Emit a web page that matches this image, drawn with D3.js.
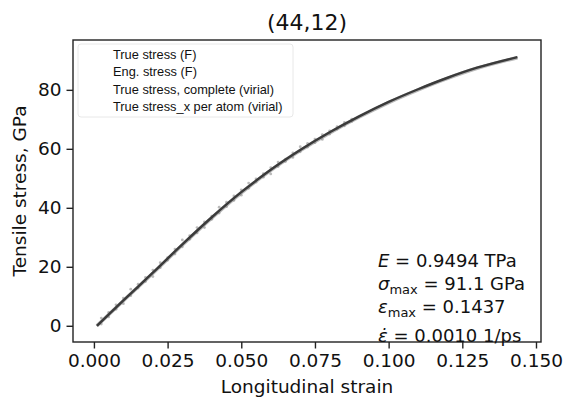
<!DOCTYPE html>
<html>
<head>
<meta charset="utf-8">
<script src="https://cdn.jsdelivr.net/npm/d3@7"></script>
<style>
  html, body { margin: 0; padding: 0; background: #fff; }
  svg { display: block; }
  text { font-family: "DejaVu Sans", sans-serif; fill: #111; }
</style>
</head>
<body>
<svg id="chart" width="565" height="398"></svg>
<script>
// Stress-strain data (strain, GPa)
const strain = [0.001, 0.010, 0.020, 0.030, 0.040, 0.050, 0.060, 0.070, 0.080, 0.090, 0.100, 0.110, 0.120, 0.130, 0.1437];
const trueStressF = [0.0, 8.6, 18.0, 27.6, 36.8, 45.3, 52.9, 59.6, 65.6, 71.0, 75.9, 80.2, 84.1, 87.5, 91.1];
const engStressF = [0.0, 8.5, 17.8, 27.4, 36.6, 45.1, 52.7, 59.4, 65.4, 70.8, 75.7, 80.0, 83.9, 87.3, 90.9];

// Virial samples
const virialStrain = [0.0025, 0.005, 0.0075, 0.010, 0.0125, 0.015, 0.0175, 0.020, 0.0225, 0.025, 0.0275, 0.030,
  0.0325, 0.035, 0.0375, 0.040, 0.0425, 0.045, 0.0475, 0.050, 0.0525, 0.055, 0.0575, 0.060, 0.0625, 0.065,
  0.0675, 0.070, 0.0725, 0.075, 0.0775, 0.080, 0.0825, 0.085, 0.0875];
const virialStress = [2.6, 3.0, 7.1, 7.5, 12.4, 12.8, 16.4, 16.7, 21.4, 23.1, 24.3, 29.1,
  29.3, 33.3, 33.3, 37.2, 40.2, 40.4, 44.0, 44.3, 48.4, 48.7, 51.6, 51.5, 55.5, 56.5,
  57.1, 60.7, 60.6, 63.3, 63.2, 66.1, 66.7, 69.0, 69.3];
const perAtomStress = [0.6, 4.5, 5.6, 9.4, 10.2, 14.1, 15.0, 18.9, 19.7, 22.2, 26.0, 26.8,
  30.6, 31.5, 35.2, 36.1, 38.2, 41.9, 42.5, 46.1, 46.6, 49.8, 50.4, 53.6, 54.0, 55.7,
  58.6, 59.0, 61.8, 62.1, 64.8, 65.0, 67.5, 67.8, 70.1];

const legendLabels = ["True stress (F)", "Eng. stress (F)", "True stress, complete (virial)", "True stress_x per atom (virial)"];
const xTicks = [0.000, 0.025, 0.050, 0.075, 0.100, 0.125, 0.150];
const yTicks = [0, 20, 40, 60, 80];

const svg = d3.select("#chart");
const plot = { left: 73, right: 541, top: 40, bottom: 342 };

const x = d3.scaleLinear().domain([-0.0071, 0.1517]).range([plot.left, plot.right]);
const y = d3.scaleLinear().domain([-5.5, 96.9]).range([plot.bottom, plot.top]);

// Slight softening filter for the curves
const defs = svg.append("defs");
defs.append("filter").attr("id", "soft").append("feGaussianBlur").attr("stdDeviation", 0.6);

// Legend frame
const lg = svg.append("g");
lg.append("rect")
  .attr("x", 78).attr("y", 44).attr("width", 215).attr("height", 73)
  .attr("rx", 3).attr("fill", "#fff").attr("stroke", "#e8e8e8").attr("stroke-width", 1);
lg.selectAll("text").data(legendLabels).join("text")
  .attr("x", 113).attr("y", (d, i) => 58.5 + i * 17.5)
  .style("font-family", "'Liberation Sans', Arial, sans-serif")
  .style("font-size", "12.8px")
  .attr("fill", "#222")
  .text(d => d);

// Data marks
const curves = svg.append("g").attr("filter", "url(#soft)");
const pts = virialStrain.map((s, i) => [s, virialStress[i]]).concat(virialStrain.map((s, i) => [s, perAtomStress[i]]));
curves.selectAll("circle").data(pts).join("circle")
  .attr("cx", d => x(d[0])).attr("cy", d => y(d[1])).attr("r", 1.4)
  .attr("fill", "#777").attr("opacity", 0.5);

const line = d3.line().curve(d3.curveMonotoneX).x(d => x(d[0])).y(d => y(d[1]));
curves.append("path")
  .datum(strain.map((s, i) => [s, engStressF[i]]))
  .attr("d", line).attr("fill", "none").attr("stroke", "#888").attr("stroke-width", 3.6).attr("opacity", 0.6);
curves.append("path")
  .datum(strain.map((s, i) => [s, trueStressF[i]]))
  .attr("d", line).attr("fill", "none").attr("stroke", "#3a3a3a").attr("stroke-width", 2.4);

// Axes
const xAxis = d3.axisBottom(x).tickValues(xTicks).tickFormat(d3.format(".3f")).tickSize(6.5).tickPadding(5);
const yAxis = d3.axisLeft(y).tickValues(yTicks).tickSize(6.5).tickPadding(5);

const gx = svg.append("g").attr("transform", `translate(0,${plot.bottom})`).call(xAxis);
const gy = svg.append("g").attr("transform", `translate(${plot.left},0)`).call(yAxis);
[gx, gy].forEach(g => {
  g.select(".domain").remove();
  g.selectAll(".tick line").attr("stroke", "#222").attr("stroke-width", 1.4);
  g.selectAll(".tick text").attr("fill", "#111")
    .style("font-family", "'DejaVu Sans', sans-serif").style("font-size", "18.5px");
});

// Frame
svg.append("rect")
  .attr("x", plot.left).attr("y", plot.top)
  .attr("width", plot.right - plot.left).attr("height", plot.bottom - plot.top)
  .attr("fill", "none").attr("stroke", "#222").attr("stroke-width", 1.4);

// Title and axis labels
svg.append("text").attr("x", (plot.left + plot.right) / 2).attr("y", 30)
  .attr("text-anchor", "middle").style("font-size", "22px").text("(44,12)");
svg.append("text").attr("x", (plot.left + plot.right) / 2).attr("y", 393)
  .attr("text-anchor", "middle").style("font-size", "18.5px").text("Longitudinal strain");
svg.append("text")
  .attr("transform", `translate(26,${(plot.top + plot.bottom) / 2}) rotate(-90)`)
  .attr("text-anchor", "middle").style("font-size", "18.5px").text("Tensile stress, GPa");

// Result annotation
const ann = svg.append("g").style("font-size", "18px");
const annX = 378;
const l1 = ann.append("text").attr("x", annX).attr("y", 267);
l1.append("tspan").style("font-style", "italic").text("E");
l1.append("tspan").text(" = 0.9494 TPa");

const l2 = ann.append("text").attr("x", annX).attr("y", 290);
l2.append("tspan").style("font-style", "italic").text("σ");
l2.append("tspan").attr("dy", 4).style("font-size", "13px").text("max");
l2.append("tspan").attr("dy", -4).text(" = 91.1 GPa");

const l3 = ann.append("text").attr("x", annX).attr("y", 313);
l3.append("tspan").style("font-style", "italic").text("ε");
l3.append("tspan").attr("dy", 4).style("font-size", "13px").text("max");
l3.append("tspan").attr("dy", -4).text(" = 0.1437");

const l4 = ann.append("text").attr("x", annX).attr("y", 342);
l4.append("tspan").style("font-style", "italic").text("ε\u0307");
l4.append("tspan").text(" = 0.0010 1/ps");
</script>
</body>
</html>
